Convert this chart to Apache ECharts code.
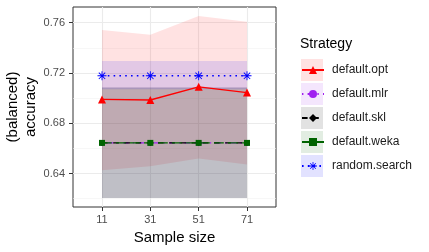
<!DOCTYPE html>
<html><head><meta charset="utf-8">
<script src="https://cdn.jsdelivr.net/npm/echarts@6/dist/echarts.min.js"></script>
<style>html,body{margin:0;padding:0;background:#fff}#c{width:429px;height:252px}</style>
</head><body><div id="c"></div>
<script>
// ---- data ----
const categories = ['11', '31', '51', '71'];
const xPos = [1, 2, 3, 4];
const yTicks = [0.64, 0.68, 0.72, 0.76];
const yMinorTicks = [0.62, 0.66, 0.70, 0.74];
const strategies = ['default.opt', 'default.mlr', 'default.skl', 'default.weka', 'random.search'];

const optMean = [0.699, 0.6985, 0.709, 0.7044];
const optLow  = [0.6426, 0.6458, 0.652, 0.6472];
const optHigh = [0.7542, 0.7504, 0.7653, 0.7608];

const mlrMean = [0.6644, 0.6644, 0.6644, 0.6644];
const mlrLow  = [0.6206, 0.6206, 0.6206, 0.6206];
const mlrHigh = [0.7085, 0.7085, 0.7085, 0.7085];

const sklMean = [0.6644, 0.6644, 0.6644, 0.6644];
const sklLow  = [0.6206, 0.6206, 0.6206, 0.6206];
const sklHigh = [0.7085, 0.7085, 0.7085, 0.7085];

const wekaMean = [0.6644, 0.6644, 0.6644, 0.6644];
const wekaLow  = [0.6206, 0.6206, 0.6206, 0.6206];
const wekaHigh = [0.7085, 0.7085, 0.7085, 0.7085];

const rsMean = [0.7178, 0.7178, 0.7178, 0.7178];
const rsLow  = [0.707, 0.707, 0.707, 0.707];
const rsHigh = [0.7295, 0.7295, 0.7295, 0.7295];

// ---- styles ----
const FONT = 'Liberation Sans';
const ALPHA = 0.115;
const asterisk = 'path://M0 9H20V11H0Z M9 0H11V20H9Z M2.2 3.6L3.6 2.2L17.8 16.4L16.4 17.8Z M16.4 2.2L17.8 3.6L3.6 17.8L2.2 16.4Z';
const styleMap = {
  'default.opt':   {color: '#ff0000', rgb: '255,0,0',     dash: 'solid',               symbol: 'triangle', size: 8},
  'default.mlr':   {color: '#a020f0', rgb: '160,32,240',  dash: [1.4, 4.2, 5.6, 4.2],  symbol: 'circle',   size: 6},
  'default.skl':   {color: '#000000', rgb: '0,0,0',       dash: [5.6, 5.6],            symbol: 'diamond',  size: 6},
  'default.weka':  {color: '#006400', rgb: '0,100,0',     dash: [9.8, 4.2],            symbol: 'rect',     size: 6},
  'random.search': {color: '#0000ff', rgb: '0,0,255',     dash: [1.6, 4.2],            symbol: asterisk,   size: 9}
};
const dataMap = {
  'default.opt':   [optMean, optLow, optHigh],
  'default.mlr':   [mlrMean, mlrLow, mlrHigh],
  'default.skl':   [sklMean, sklLow, sklHigh],
  'default.weka':  [wekaMean, wekaLow, wekaHigh],
  'random.search': [rsMean, rsLow, rsHigh]
};

const pairs = arr => arr.map((v, i) => [xPos[i], v]);
const series = [];
// ribbons first (polygon through the axis scales)
strategies.forEach(name => {
  const [m, lo, hi] = dataMap[name];
  const st = styleMap[name];
  series.push({
    name: name + ' band', type: 'custom', z: 1, silent: true, clip: true,
    data: [[xPos[0], lo[0]]],
    renderItem: (params, api) => {
      const pts = [];
      xPos.forEach((x, i) => pts.push(api.coord([x, hi[i]])));
      for (let i = xPos.length - 1; i >= 0; i--) pts.push(api.coord([xPos[i], lo[i]]));
      return {type: 'polygon', shape: {points: pts}, style: {fill: 'rgba(' + st.rgb + ',' + ALPHA + ')'}};
    }
  });
});
// lines + points
strategies.forEach((name, k) => {
  const st = styleMap[name];
  series.push({
    name: name, type: 'line', data: pairs(dataMap[name][0]),
    symbol: st.symbol, symbolSize: st.size, showSymbol: true,
    itemStyle: {color: st.color, borderWidth: 0},
    lineStyle: {color: st.color, width: 1.4, type: st.dash},
    z: 3 + k, silent: true
  });
});

const chart = echarts.init(document.getElementById('c'), null, {renderer: 'canvas'});
chart.setOption({
  animation: false,
  backgroundColor: '#ffffff',
  textStyle: {fontFamily: FONT},
  title: {
    text: 'Strategy', left: 300, top: 37, padding: 0,
    textStyle: {fontFamily: FONT, fontSize: 14, fontWeight: 'normal', color: '#000000'}
  },
  grid: {left: 73, top: 7, width: 203, height: 200, show: true, borderColor: '#333333', borderWidth: 1, backgroundColor: '#ffffff'},
  xAxis: {
    type: 'value', min: 0.4, max: 4.6,
    name: 'Sample size', nameLocation: 'middle', nameGap: 20,
    nameTextStyle: {fontFamily: FONT, fontSize: 15, color: '#000000'},
    axisLine: {show: false},
    axisTick: {show: true, length: 4, lineStyle: {color: '#333333', width: 1}, customValues: xPos},
    axisLabel: {customValues: xPos, margin: 7, fontFamily: FONT, fontSize: 11, color: '#4d4d4d',
      formatter: v => categories[xPos.indexOf(v)] || ''},
    splitLine: {show: true, lineStyle: {color: '#ebebeb', width: 1.1}}
  },
  yAxis: [{
    type: 'value', min: 0.6134, max: 0.7725,
    name: '(balanced)\naccuracy', nameLocation: 'middle', nameGap: 33,
    nameTextStyle: {fontFamily: FONT, fontSize: 15, lineHeight: 18, color: '#000000'},
    axisLine: {show: false},
    axisTick: {show: true, length: 4, lineStyle: {color: '#333333', width: 1}, customValues: yTicks},
    axisLabel: {customValues: yTicks, margin: 8, fontFamily: FONT, fontSize: 11, color: '#4d4d4d',
      formatter: v => v.toFixed(2)},
    splitLine: {show: true, lineStyle: {color: '#ebebeb', width: 1.1}}
  }, {
    type: 'value', min: 0.6134, max: 0.7725, position: 'left',
    axisLine: {show: false},
    axisTick: {show: false, customValues: yMinorTicks},
    axisLabel: {show: false, customValues: yMinorTicks},
    splitLine: {show: true, lineStyle: {color: '#f2f2f2', width: 0.6}}
  }],
  legend: [{
    left: 301, top: 59, orient: 'vertical', padding: 0, selectedMode: false,
    itemWidth: 22, itemHeight: 22, itemGap: 2, z: 4,
    textStyle: {fontFamily: FONT, fontSize: 12, color: '#1a1a1a', padding: [0, 0, 0, 4]},
    data: strategies.map(n => ({name: n, icon: 'rect',
      itemStyle: {color: 'rgba(' + styleMap[n].rgb + ',' + ALPHA + ')', borderWidth: 0, opacity: 1}}))
  }, {
    left: 301, top: 65, orient: 'vertical', padding: 0, selectedMode: false,
    itemWidth: 22, itemHeight: 10, itemGap: 14, z: 5,
    textStyle: {color: 'rgba(0,0,0,0)', fontSize: 8, lineHeight: 10, height: 10},
    data: strategies
  }],
  series: series
});
</script>
</body></html>
